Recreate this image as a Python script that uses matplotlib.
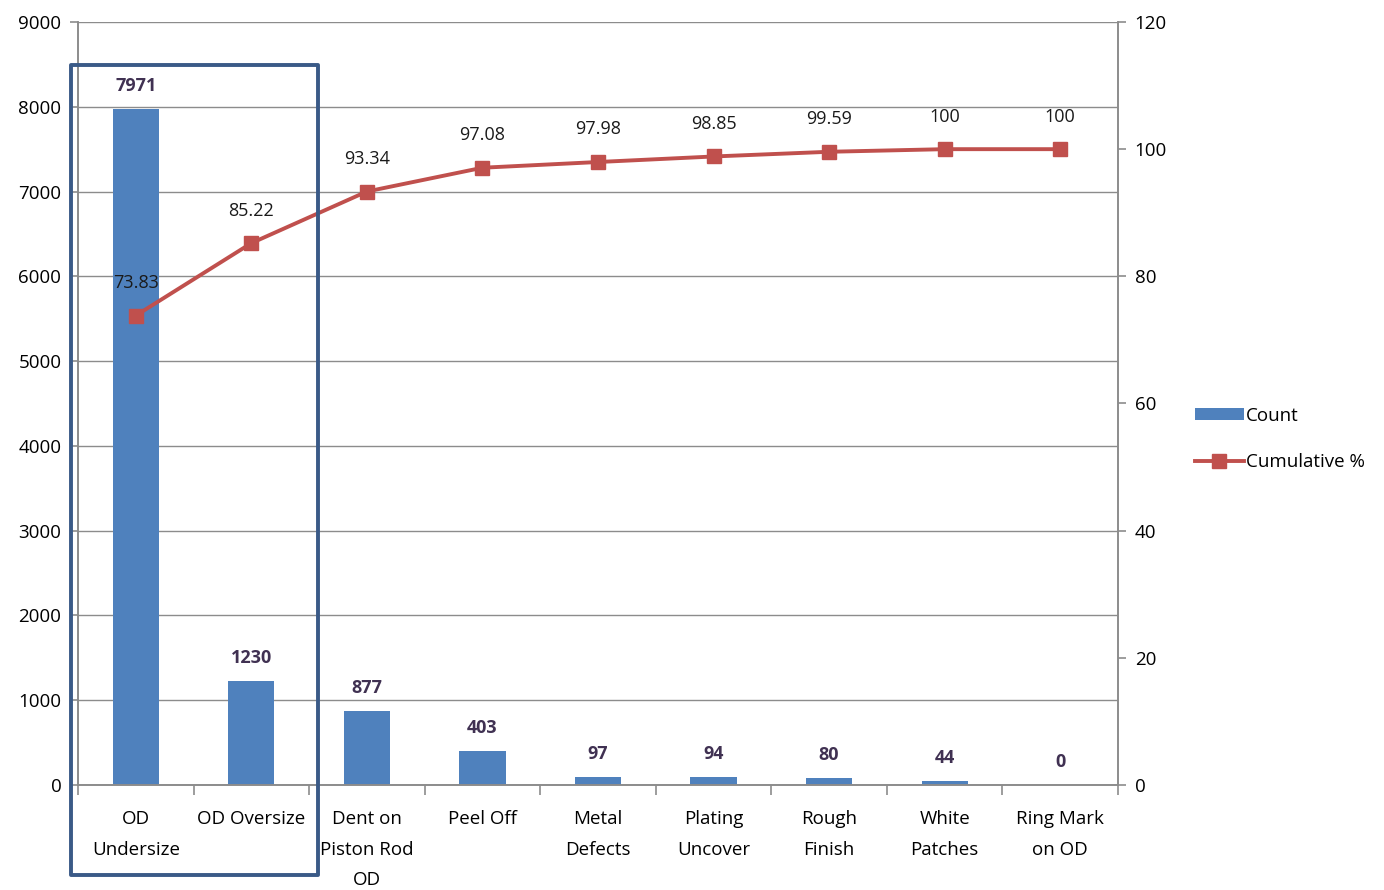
import matplotlib
matplotlib.use("Agg")
import matplotlib.pyplot as plt
from matplotlib.patches import Rectangle, Patch
from matplotlib.lines import Line2D
import numpy as np

categories = ["OD\nUndersize", "OD Oversize", "Dent on\nPiston Rod\nOD", "Peel Off",
              "Metal\nDefects", "Plating\nUncover", "Rough\nFinish", "White\nPatches",
              "Ring Mark\non OD"]
counts = [7971, 1230, 877, 403, 97, 94, 80, 44, 0]
cum_pct = [73.83, 85.22, 93.34, 97.08, 97.98, 98.85, 99.59, 100, 100]
cum_labels = ["73.83", "85.22", "93.34", "97.08", "97.98", "98.85", "99.59", "100", "100"]

plt.rcParams['font.family'] = ['Open Sans', 'DejaVu Sans']

W, H = 1384, 890
fig = plt.figure(figsize=(W / 100, H / 100), dpi=100)
ax = fig.add_axes([78 / W, 1 - 785 / H, (1118 - 78) / W, (785 - 22) / H])
ax2 = ax.twinx()

x = np.arange(len(categories))
bar_color = "#4F81BD"
line_color = "#C0504D"
grid_color = "#8C8C8C"

ax.bar(x, counts, width=0.4, color=bar_color, zorder=2)
ax.set_xlim(-0.5, len(categories) - 0.5)
ax.set_ylim(0, 9000)
ax.set_yticks(np.arange(0, 9001, 1000))
ax.yaxis.grid(True, color=grid_color, lw=1.0, zorder=0)
ax.set_axisbelow(True)

for xi, c in zip(x, counts):
    ax.annotate(str(c), (xi, c), xytext=(0, 10), textcoords="offset points",
                ha="center", va="bottom", fontsize=13, fontweight="bold", color="#403152")

ax2.plot(x, cum_pct, color=line_color, lw=2.8, marker="s", markersize=10, zorder=3)
ax2.set_ylim(0, 120)
ax2.set_yticks(np.arange(0, 121, 20))
for xi, v, lab in zip(x, cum_pct, cum_labels):
    ax2.annotate(lab, (xi, v), xytext=(0, 17), textcoords="offset points",
                 ha="center", va="bottom", fontsize=13, color="#1A1A1A")

# x ticks at boundaries, labels at centers
ax.set_xticks(np.arange(-0.5, len(categories) + 0.5, 1.0))
ax.set_xticklabels([])
ax.set_xticks(x, minor=True)
ax.set_xticklabels(categories, minor=True, fontsize=13.5, linespacing=1.9)
ax.tick_params(axis="x", which="minor", length=0, pad=18)
ax.tick_params(axis="x", which="major", length=7, color=grid_color, width=1.2)
ax.tick_params(axis="y", length=6, color=grid_color, width=1.2, labelsize=13.5, pad=6)
ax2.tick_params(axis="y", length=6, color=grid_color, width=1.2, labelsize=13.5, pad=6)

for a in (ax, ax2):
    a.spines["top"].set_visible(False)
    for s in ["left", "right", "bottom"]:
        a.spines[s].set_color(grid_color)
        a.spines[s].set_linewidth(1.2)

# highlight box
rect = Rectangle((71 / W, 1 - 875 / H), (318 - 71) / W, (875 - 65) / H,
                 transform=fig.transFigure, fill=False, edgecolor="#3A5A87", lw=2.8,
                 joinstyle="round", zorder=10)
fig.patches.append(rect)

handles = [Patch(facecolor=bar_color, edgecolor="none"),
           Line2D([0], [0], color=line_color, lw=2.8, marker="s", markersize=10)]
fig.legend(handles, ["Count", "Cumulative %"], loc="center left",
           bbox_to_anchor=(1178 / W, 1 - 439 / H), frameon=False, fontsize=13.5,
           handlelength=2.6, handleheight=0.6, handletextpad=0.1, labelspacing=1.5)

fig.savefig("out.png", dpi=100, facecolor="white")
